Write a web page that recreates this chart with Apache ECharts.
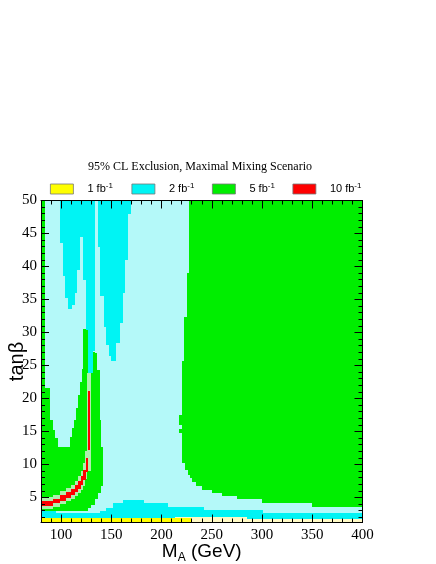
<!DOCTYPE html>
<html>
<head>
<meta charset="utf-8">
<script src="https://cdn.jsdelivr.net/npm/echarts@6/dist/echarts.min.js"></script>
<style>
html,body{margin:0;padding:0;background:#fff}
#chart{width:436px;height:564px}
</style>
</head>
<body>
<div id="chart"></div>
<script>
// tick positions
var massTicks = [100, 150, 200, 250, 300, 350, 400];
var massMinorTicks = [80, 90, 100, 110, 120, 130, 140, 150, 160, 170, 180, 190, 200, 210, 220, 230, 240, 250,
  260, 270, 280, 290, 300, 310, 320, 330, 340, 350, 360, 370, 380, 390, 400];
var tanbTicks = [5, 10, 15, 20, 25, 30, 35, 40, 45, 50];
var tanbMinorTicks = [2, 3, 4, 5, 6, 7, 8, 9, 10, 11, 12, 13, 14, 15, 16, 17, 18, 19, 20, 21, 22, 23, 24, 25,
  26, 27, 28, 29, 30, 31, 32, 33, 34, 35, 36, 37, 38, 39, 40, 41, 42, 43, 44, 45, 46, 47, 48, 49, 50];

var lumiNames = ['1 fb-1', '2 fb-1', '5 fb-1', '10 fb-1'];

// excluded regions, each cell = [M_A from, M_A to, tanb low, tanb high]
var green5Right = [
  [217.5, 220.5, 16.0, 17.5], [217.5, 220.5, 14.8, 15.3],
  [220.5, 222.5, 10.2, 25.6], [222.5, 223, 10.2, 32.4], [223, 225, 9.1, 32.4],
  [225, 226, 9.1, 39], [226, 227.5, 8.4, 39], [227.5, 228, 8.4, 50],
  [228, 230.5, 7.9, 50], [230.5, 234, 7.4, 50], [234, 240, 6.8, 50], [240, 250, 6.2, 50],
  [250, 260, 5.7, 50], [260, 275, 5.2, 50], [275, 300, 4.7, 50], [300, 350, 4.2, 50], [350, 400, 3.6, 50]
];
var green5Left = [
  [80, 84, 3.0, 50], [84, 89, 3.0, 21.6], [89, 92, 3.0, 16.8], [92, 94, 3.0, 15.2], [94, 97, 3.0, 14.0],
  [97, 109, 3.0, 12.7], [109, 111, 3.0, 14.2], [111, 113, 3.0, 15.5], [113, 115, 3.0, 16.8],
  [115, 117, 3.0, 18.5], [117, 119, 3.0, 20.5], [119, 120.5, 3.0, 22.5], [120.5, 122, 3.0, 24.5],
  [122, 127, 3.0, 30.5], [127, 130, 3.4, 27], [130, 133.5, 3.9, 27], [133.5, 136.2, 4.7, 26.9],
  [136.2, 136.8, 4.7, 24.3], [136.8, 138.5, 5.7, 24.3], [138.5, 140, 5.7, 16.8], [140, 142, 6.7, 12.7]
];
var cyan2Spikes = [
  [98.6, 101.9, 43.5, 50], [101.9, 104.3, 38.6, 50], [104.3, 106.9, 35.2, 50], [106.9, 111.2, 33.5, 50],
  [111.2, 113.6, 34.2, 50], [113.6, 115.9, 36, 50], [115.9, 119.2, 39.5, 50], [119.2, 121.9, 44.5, 50],
  [121.9, 125.2, 38, 50], [125.2, 126.5, 30.4, 50], [126.5, 131.5, 23.8, 50], [131.5, 133.5, 27.2, 50],
  [136.8, 139.1, 43, 50], [139.1, 142.5, 35.5, 50], [142.5, 145.1, 30.9, 50], [145.1, 147.8, 28.1, 50],
  [147.8, 150.1, 26.4, 50], [150.1, 154.4, 25.6, 50], [154.4, 158.4, 28.4, 50], [158.4, 161.7, 31.4, 50],
  [161.7, 164, 36, 50], [164, 166.7, 41, 50], [166.7, 169.3, 48, 50]
];
var paleGreenBand = [
  [80, 92, 3.3, 5.0], [92, 99, 3.6, 5.4], [99, 105, 4.0, 5.9], [105, 110, 4.4, 6.4], [110, 114, 4.8, 6.9],
  [114, 117, 5.2, 7.5], [117, 120, 5.7, 8.2], [120, 122, 6.2, 9.0], [122, 124, 6.8, 10.2],
  [124, 126, 7.8, 12.0], [126, 130.2, 9.0, 23.8]
];
var red10 = [
  [80, 92, 3.7, 4.4], [92, 99, 4.1, 4.8], [99, 105, 4.5, 5.3], [105, 110, 4.9, 5.8], [110, 114, 5.3, 6.3],
  [114, 117, 5.8, 6.9], [117, 120, 6.3, 7.5], [120, 122, 6.9, 8.2], [122, 124.5, 7.6, 9.2],
  [124.5, 126.8, 8.9, 11.0], [126.8, 129.2, 12.2, 21.1]
];
var cyan2Bottom = [
  [80, 95, 1, 3.0], [95, 138.5, 1, 2.6], [138.5, 145, 1, 2.9], [145, 152, 1, 3.4], [152, 162, 1, 4.15],
  [162, 183, 1, 4.65], [183, 206.5, 1, 4.15], [206.5, 242.5, 1, 3.6], [242.5, 301, 1, 3.1], [301, 400, 1, 2.6]
];
var paleYellowBand = [[213, 285, 1, 2.1], [285, 400, 1, 1.7]];
var yellow1 = [[80, 229, 1, 1.9]];

var colors = {
  paleCyan: '#b4f9f9', cyan: '#00f4f4', green: '#00ee00', paleGreen: '#aef0ae',
  red: '#ff0000', yellow: '#ffff00', paleYellow: '#fffac6'
};

function drawCell(params, api) {
  var a = api.coord([api.value(0), api.value(3)]);
  var b = api.coord([api.value(1), api.value(2)]);
  var x0 = Math.round(a[0]), y0 = Math.round(a[1]);
  var shape = echarts.graphic.clipRectByRect(
    { x: x0, y: y0, width: Math.round(b[0]) - x0, height: Math.round(b[1]) - y0 },
    { x: params.coordSys.x, y: params.coordSys.y, width: params.coordSys.width, height: params.coordSys.height }
  );
  if (!shape) return;
  return { type: 'rect', shape: shape, style: { fill: api.visual('color') } };
}

function region(name, color, cells) {
  return {
    type: 'custom', name: name, data: cells, renderItem: drawCell,
    itemStyle: { color: color }, encode: { x: [0, 1], y: [2, 3] },
    silent: true, animation: false
  };
}

var serif = 'Liberation Serif';
var sans = 'Liberation Sans';

function massAxis(pos, ticks, len, labels) {
  return {
    type: 'value', min: 80, max: 400, position: pos, z: 10,
    axisLine: { show: len > 5, lineStyle: { color: '#000', width: 1 } },
    axisTick: { inside: true, length: len, customValues: ticks, lineStyle: { color: '#000', width: 1 } },
    axisLabel: { show: labels, customValues: ticks, margin: 5, fontFamily: serif, fontSize: 15, color: '#000' },
    splitLine: { show: false }
  };
}
function tanbAxis(pos, ticks, len, labels) {
  return {
    type: 'value', min: 1.2, max: 50, position: pos, z: 10,
    axisLine: { show: len > 5, lineStyle: { color: '#000', width: 1 } },
    axisTick: { inside: true, length: len, customValues: ticks, lineStyle: { color: '#000', width: 1 } },
    axisLabel: { show: labels, customValues: ticks, margin: 4, fontFamily: serif, fontSize: 15, color: '#000' },
    splitLine: { show: false }
  };
}

var xMain = massAxis('bottom', massTicks, 8, true);
xMain.name = '{m|M}{s|A}{m| (GeV)}';
xMain.nameLocation = 'middle';
xMain.nameGap = 18;
xMain.nameMoveOverlap = false;
xMain.nameTextStyle = {
  rich: {
    m: { fontFamily: sans, fontSize: 19, color: '#000', lineHeight: 22 },
    s: { fontFamily: sans, fontSize: 12, color: '#000', lineHeight: 22, padding: [12, 0, 0, 0] }
  }
};
var yMain = tanbAxis('left', tanbTicks, 8, true);
yMain.name = 'tanβ';
yMain.nameLocation = 'middle';
yMain.nameGap = 14;
yMain.nameMoveOverlap = false;
yMain.nameTextStyle = { fontFamily: sans, fontSize: 20, color: '#000' };

var legendLeft = [50, 131.5, 212, 292.5];

var chart = echarts.init(document.getElementById('chart'));
chart.setOption({
  animation: false,
  backgroundColor: '#fff',
  title: {
    text: '95% CL Exclusion, Maximal Mixing Scenario',
    left: 88, top: 161, padding: 0,
    textStyle: { fontFamily: serif, fontSize: 12, fontWeight: 'normal', color: '#000' }
  },
  legend: lumiNames.map(function (n, i) {
    return {
      data: [n], left: legendLeft[i], top: 182, padding: 0, selectedMode: false,
      icon: 'rect', itemWidth: 23, itemHeight: 10,
      itemStyle: { borderColor: '#777', borderWidth: 0.8 },
      formatter: function (name) { return name.replace('fb-1', 'fb{s|-1}'); },
      textStyle: {
        fontFamily: sans, fontSize: 11, color: '#000', lineHeight: 14, padding: [0, 0, 0, 9],
        rich: { s: { fontFamily: sans, fontSize: 8, color: '#000', lineHeight: 8, verticalAlign: 'top' } }
      }
    };
  }),
  grid: {
    left: 41, top: 200.5, width: 321.5, height: 322,
    outerBoundsMode: 'none', containLabel: false,
    show: true, backgroundColor: colors.paleCyan, borderWidth: 0
  },
  xAxis: [
    xMain,
    massAxis('bottom', massMinorTicks, 4, false),
    massAxis('top', massTicks, 8, false),
    massAxis('top', massMinorTicks, 4, false)
  ],
  yAxis: [
    yMain,
    tanbAxis('left', tanbMinorTicks, 4, false),
    tanbAxis('right', tanbTicks, 8, false),
    tanbAxis('right', tanbMinorTicks, 4, false)
  ],
  series: [
    region('5 fb-1', colors.green, green5Right),
    region('5 fb-1', colors.green, green5Left),
    region('2 fb-1', colors.cyan, cyan2Spikes),
    region('', colors.paleGreen, paleGreenBand),
    region('10 fb-1', colors.red, red10),
    region('2 fb-1', colors.cyan, cyan2Bottom),
    region('', colors.paleYellow, paleYellowBand),
    region('1 fb-1', colors.yellow, yellow1)
  ]
});
</script>
</body>
</html>
